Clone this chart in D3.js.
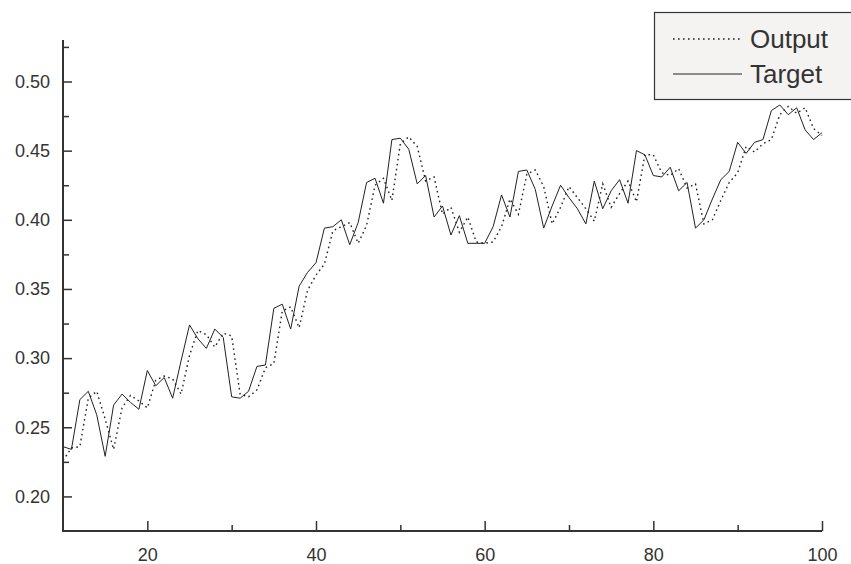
<!DOCTYPE html>
<html>
<head>
<meta charset="utf-8">
<script src="https://cdn.jsdelivr.net/npm/d3@7"></script>
<style>
  html, body { margin: 0; padding: 0; background: #fff; }
  svg { display: block; font-family: "Liberation Sans", Arial, Helvetica, sans-serif; }
</style>
</head>
<body>
<svg id="chart" width="851" height="564"></svg>
<script>
// Time steps shown on the x axis
const steps = d3.range(10, 101);

// Target series, one value per step
const target = [
  0.236, 0.234, 0.270, 0.276, 0.259, 0.229, 0.266, 0.274, 0.268, 0.263,
  0.291, 0.280, 0.286, 0.271, 0.298, 0.324, 0.314, 0.307, 0.321, 0.315,
  0.272, 0.271, 0.276, 0.294, 0.295, 0.336, 0.339, 0.321, 0.352, 0.362,
  0.369, 0.394, 0.395, 0.400, 0.382, 0.398, 0.427, 0.430, 0.412, 0.458,
  0.459, 0.451, 0.426, 0.432, 0.402, 0.410, 0.389, 0.403, 0.383, 0.383,
  0.383, 0.395, 0.418, 0.402, 0.435, 0.436, 0.422, 0.394, 0.410, 0.425,
  0.416, 0.408, 0.397, 0.428, 0.408, 0.421, 0.429, 0.412, 0.450, 0.447,
  0.432, 0.431, 0.438, 0.421, 0.427, 0.394, 0.400, 0.415, 0.429, 0.435,
  0.456, 0.448, 0.456, 0.458, 0.479, 0.483, 0.476, 0.481, 0.465, 0.458,
  0.463
];

// Model output series, one value per step
const output = [
  0.226, 0.235, 0.236, 0.271, 0.276, 0.256, 0.234, 0.264, 0.273, 0.269,
  0.264, 0.284, 0.287, 0.285, 0.274, 0.302, 0.320, 0.317, 0.308, 0.318,
  0.316, 0.274, 0.272, 0.277, 0.293, 0.296, 0.334, 0.337, 0.322, 0.349,
  0.360, 0.368, 0.392, 0.395, 0.398, 0.383, 0.396, 0.425, 0.430, 0.414,
  0.455, 0.460, 0.453, 0.428, 0.431, 0.404, 0.409, 0.391, 0.402, 0.384,
  0.383, 0.384, 0.395, 0.415, 0.404, 0.433, 0.436, 0.424, 0.397, 0.409,
  0.424, 0.416, 0.408, 0.399, 0.426, 0.409, 0.419, 0.428, 0.413, 0.447,
  0.447, 0.434, 0.432, 0.437, 0.423, 0.426, 0.397, 0.400, 0.414, 0.427,
  0.434, 0.453, 0.449, 0.455, 0.458, 0.476, 0.482, 0.477, 0.481, 0.466,
  0.461
];

// Axis ticks
const xMajorTicks = [20, 40, 60, 80, 100];
const xMinorTicks = [30, 50, 70, 90];
const yMajorTicks = [0.20, 0.25, 0.30, 0.35, 0.40, 0.45, 0.50];
const yMinorTicks = [0.225, 0.275, 0.325, 0.375, 0.425, 0.475, 0.525];

const legendItems = ["Output", "Target"];

const svg = d3.select("#chart");
const axisColor = "#333";
const tickFont = "18px";

const x = d3.scaleLinear().domain([10, 100]).range([63, 822]);
const y = d3.scaleLinear().domain([0.175, 0.53]).range([531, 40]);

// Series lines
const line = d3.line()
  .x((d, i) => x(steps[i]))
  .y(d => y(d));

svg.append("path")
  .datum(output)
  .attr("fill", "none")
  .attr("stroke", "#222")
  .attr("stroke-width", 1.4)
  .attr("stroke-dasharray", "1.6,3.4")
  .attr("d", line);

svg.append("path")
  .datum(target)
  .attr("fill", "none")
  .attr("stroke", "#222")
  .attr("stroke-width", 1)
  .attr("d", line);

// Y axis: ticks drawn inward
function yAxis(g, ticks, len, labels) {
  g.attr("transform", `translate(${x.range()[0]},0)`)
    .call(d3.axisRight(y).tickValues(ticks).tickSize(len)
      .tickFormat(labels ? d3.format(".2f") : ""));
  g.select(".domain").remove();
  g.selectAll(".tick line").attr("stroke", axisColor).attr("stroke-width", 1.5);
  g.selectAll(".tick text")
    .attr("x", -13)
    .attr("text-anchor", "end")
    .attr("fill", axisColor)
    .style("font-size", tickFont)
    .style("font-family", "'Liberation Sans', Arial, sans-serif");
}
svg.append("g").call(yAxis, yMinorTicks, 6, false);
svg.append("g").call(yAxis, yMajorTicks, 9, true);

// X axis: ticks drawn upward into the plot
function xAxis(g, ticks, len, labels) {
  g.attr("transform", `translate(0,${y.range()[0]})`)
    .call(d3.axisTop(x).tickValues(ticks).tickSize(len)
      .tickFormat(labels ? d3.format("d") : ""));
  g.select(".domain").remove();
  g.selectAll(".tick line").attr("stroke", axisColor).attr("stroke-width", 1.5);
  g.selectAll(".tick text")
    .attr("y", 24)
    .attr("dy", "0.35em")
    .attr("fill", axisColor)
    .style("font-size", tickFont)
    .style("font-family", "'Liberation Sans', Arial, sans-serif");
}
svg.append("g").call(xAxis, xMinorTicks, 6, false);
svg.append("g").call(xAxis, xMajorTicks, 10, true);

// Axis lines
svg.append("path")
  .attr("fill", "none")
  .attr("stroke", axisColor)
  .attr("stroke-width", 2)
  .attr("d", `M${x.range()[0]},${y.range()[1]}V${y.range()[0]}H${x.range()[1]}`);

// Legend
const legend = svg.append("g").attr("transform", "translate(654,12)");
legend.append("rect")
  .attr("x", 0.5).attr("y", 0.5)
  .attr("width", 205).attr("height", 87)
  .attr("fill", "#f4f3f1")
  .attr("stroke", axisColor)
  .attr("stroke-width", 1.2);

const rows = legend.selectAll("g.row")
  .data(legendItems)
  .join("g")
  .attr("class", "row")
  .attr("transform", (d, i) => `translate(0,${27 + i * 35})`);

rows.append("line")
  .attr("x1", 19).attr("x2", 88)
  .attr("stroke", "#222")
  .attr("stroke-width", (d, i) => i === 0 ? 1.4 : 1)
  .attr("stroke-dasharray", (d, i) => i === 0 ? "1.6,3.4" : null);

rows.append("text")
  .attr("x", 96)
  .attr("dy", "0.35em")
  .attr("fill", axisColor)
  .style("font-size", "26px")
  .text(d => d);
</script>
</body>
</html>
